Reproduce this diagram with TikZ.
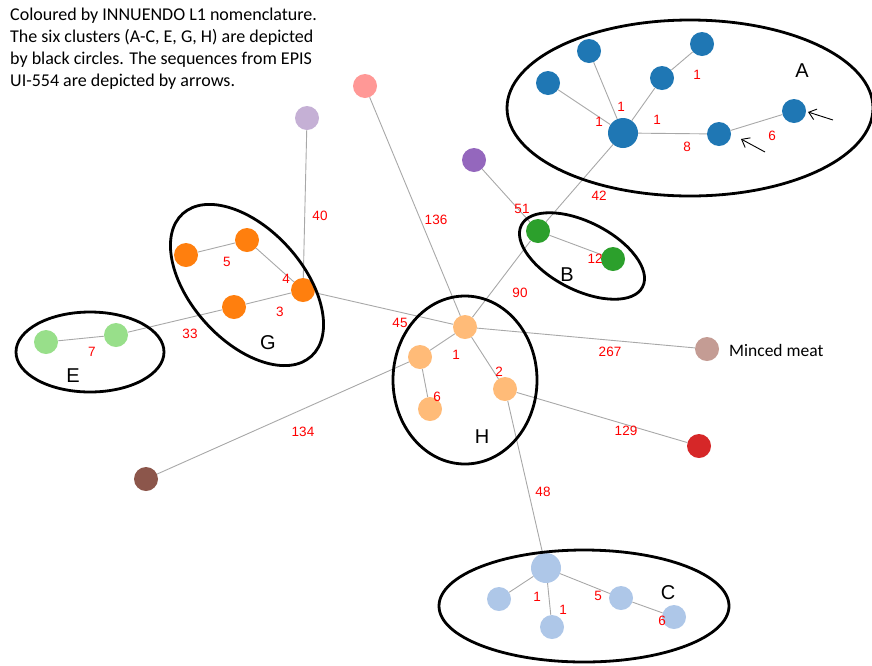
\documentclass[tikz,border=0pt]{standalone}
\usepackage{fontspec}
\setmainfont{Carlito}
\newfontfamily\arialfont{Liberation Sans}
\usetikzlibrary{arrows.meta}

% node palette
\definecolor{cA}{HTML}{1F77B4}
\definecolor{cPurple}{HTML}{9467BD}
\definecolor{cB}{HTML}{2CA02C}
\definecolor{cPink}{HTML}{FF9896}
\definecolor{cLilac}{HTML}{C5B0D5}
\definecolor{cG}{HTML}{FF7F0E}
\definecolor{cE}{HTML}{98DF8A}
\definecolor{cH}{HTML}{FFBB78}
\definecolor{cC}{HTML}{AEC7E8}
\definecolor{cBrown}{HTML}{8C564B}
\definecolor{cRed}{HTML}{D62728}
\definecolor{cMeat}{HTML}{C49C94}
\definecolor{edgegray}{HTML}{A8A8A8}

\begin{document}
\begin{tikzpicture}[x=1pt,y=1pt,
  vtx/.style={circle, inner sep=0pt, minimum size=24pt, draw=none},
  hub/.style={vtx, minimum size=30pt},
  link/.style={draw=edgegray, line width=0.9pt},
  wt/.style={text=red, font=\arialfont\fontsize{13.5}{15}\selectfont, inner sep=0pt},
  clus/.style={draw=black, line width=2.8pt},
  tag/.style={font=\arialfont\fontsize{20}{24}\selectfont, inner sep=0pt},
  pointer/.style={-{Straight Barb[length=7pt,width=11pt]}, line width=0.9pt}
]
\useasboundingbox (0,0) rectangle (872,-665);

% caption
\node[anchor=north west, align=left, inner sep=0pt,
      font=\fontsize{18}{22}\selectfont] (caption) at (10,-8)
  {Coloured by INNUENDO L1 nomenclature.\\
   The six clusters (A-C, E, G, H) are depicted\\
   by black circles. The sequences from EPIS\\
   UI-554 are depicted by arrows.};

% cluster A
\node[hub, fill=cA] (Ahub) at (623,-133) {};
\node[vtx, fill=cA] (A1) at (548,-83) {};
\node[vtx, fill=cA] (A2) at (589,-51) {};
\node[vtx, fill=cA] (A3) at (662,-78) {};
\node[vtx, fill=cA] (A4) at (702,-44) {};
\node[vtx, fill=cA] (A5) at (719,-134) {};
\node[vtx, fill=cA] (A6) at (794,-111) {};

% cluster B and neighbours
\node[vtx, fill=cPurple] (purple) at (474,-160) {};
\node[vtx, fill=cB] (B1) at (538,-231) {};
\node[vtx, fill=cB] (B2) at (613,-259) {};
\node[vtx, fill=cPink] (pink) at (365,-86) {};
\node[vtx, fill=cLilac] (lilac) at (307,-118) {};

% cluster G
\node[vtx, fill=cG] (Ghub) at (303,-290) {};
\node[vtx, fill=cG] (G2) at (234,-307) {};
\node[vtx, fill=cG] (G3) at (247,-240) {};
\node[vtx, fill=cG] (G4) at (186,-255) {};

% cluster E
\node[vtx, fill=cE] (E1) at (46,-342) {};
\node[vtx, fill=cE] (E2) at (116,-335) {};

% cluster H
\node[vtx, fill=cH] (Hhub) at (465,-327) {};
\node[vtx, fill=cH] (H2) at (420,-357) {};
\node[vtx, fill=cH] (H3) at (430,-409) {};
\node[vtx, fill=cH] (H4) at (505,-389) {};

% singletons
\node[vtx, fill=cMeat] (meat) at (707,-349) {};
\node[anchor=west, inner sep=0pt, font=\fontsize{17.5}{20}\selectfont] (meatlbl) at (729,-350) {Minced meat};
\node[vtx, fill=cBrown] (brown) at (146,-479) {};
\node[vtx, fill=cRed] (red) at (699,-446) {};

% cluster C
\node[hub, fill=cC] (Chub) at (546,-568) {};
\node[vtx, fill=cC] (C1) at (499,-599) {};
\node[vtx, fill=cC] (C2) at (552,-627) {};
\node[vtx, fill=cC] (C3) at (621,-598) {};
\node[vtx, fill=cC] (C4) at (674,-617) {};

% tree edges
\foreach \u/\v in {Ahub/A1, Ahub/A2, Ahub/A3, A3/A4, Ahub/A5, A5/A6, Ahub/B1,
                   purple/B1, B1/B2, B1/Hhub, pink/Hhub,
                   lilac/Ghub, Ghub/G3, G3/G4, Ghub/G2, G2/E2, E2/E1, Ghub/Hhub,
                   Hhub/H2, H2/H3, Hhub/H4, Hhub/meat, H2/brown, H4/red, H4/Chub,
                   Chub/C1, Chub/C2, Chub/C3, C3/C4}
  \draw[link] (\u) -- (\v);

% edge weights
\node[wt] (wA34) at (697,-75) {1};
\node[wt] (wA2) at (621,-107) {1};
\node[wt] (wA1) at (599,-122) {1};
\node[wt] (wA3) at (657,-120) {1};
\node[wt] (wA5) at (687,-147) {8};
\node[wt] (wA6) at (772,-136) {6};
\node[wt] (w42) at (599,-196) {42};
\node[wt] (w51) at (522,-209) {51};
\node[wt] (w12) at (595,-259) {12};
\node[wt] (w90) at (520,-293) {90};
\node[wt] (w136) at (436,-220) {136};
\node[wt] (w40) at (320,-216) {40};
\node[wt] (w5g) at (227,-262) {5};
\node[wt] (w4g) at (286,-279) {4};
\node[wt] (w3g) at (280,-312) {3};
\node[wt] (w33) at (190,-334) {33};
\node[wt] (w7) at (92,-352) {7};
\node[wt] (w45) at (400,-323) {45};
\node[wt] (w1h) at (456,-355) {1};
\node[wt] (w6h) at (437,-397) {6};
\node[wt] (w2h) at (499,-372) {2};
\node[wt] (w267) at (610,-352) {267};
\node[wt] (w134) at (303,-432) {134};
\node[wt] (w129) at (626,-431) {129};
\node[wt] (w48) at (543,-492) {48};
\node[wt] (w1c) at (537,-597) {1};
\node[wt] (w1d) at (563,-610) {1};
\node[wt] (w5c) at (598,-596) {5};
\node[wt] (w6c) at (662,-621) {6};

% cluster outlines
\draw[clus] (690,-108) ellipse [x radius=183, y radius=88];
\draw[clus, rotate around={-27:(582,-256)}] (582,-256) ellipse [x radius=68, y radius=34];
\draw[clus, rotate around={-48:(247,-285)}] (247,-285) ellipse [x radius=96, y radius=56];
\draw[clus] (90,-352) ellipse [x radius=74, y radius=40];
\draw[clus] (465,-380) ellipse [x radius=72, y radius=84];
\draw[clus] (584,-606) ellipse [x radius=145, y radius=56];

% cluster letters
\node[tag] (tA) at (802,-71) {A};
\node[tag] (tB) at (567,-275) {B};
\node[tag] (tG) at (268,-343) {G};
\node[tag] (tE) at (73,-376) {E};
\node[tag] (tH) at (482,-437) {H};
\node[tag] (tC) at (668,-593) {C};

% pointers to the EPIS UI-554 sequences
\coordinate (p1s) at (765,-152);
\coordinate (p1e) at (741,-139);
\coordinate (p2s) at (833,-120);
\coordinate (p2e) at (808,-112);
\draw[pointer] (p1s) -- (p1e);
\draw[pointer] (p2s) -- (p2e);
\end{tikzpicture}
\end{document}
